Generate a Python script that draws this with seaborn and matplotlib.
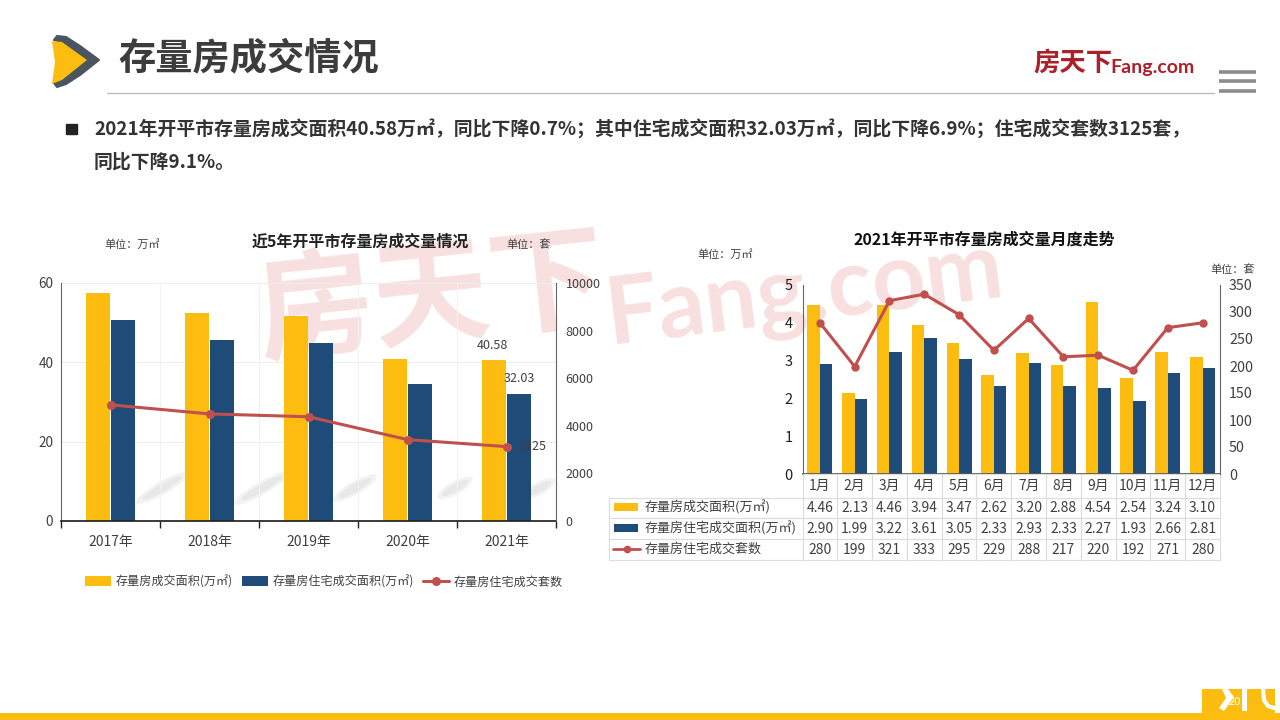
import pandas as pd
import seaborn as sns
import matplotlib.pyplot as plt
from matplotlib.patches import Polygon, Rectangle, Ellipse

years = ['2017年', '2018年', '2019年', '2020年', '2021年']
year_area = [57.5, 52.4, 51.7, 40.8, 40.58]
year_house_area = [50.6, 45.6, 44.8, 34.5, 32.03]
year_sets = [4880, 4500, 4380, 3420, 3125]

months = ['1月', '2月', '3月', '4月', '5月', '6月', '7月', '8月', '9月', '10月', '11月', '12月']
month_area = [4.46, 2.13, 4.46, 3.94, 3.47, 2.62, 3.20, 2.88, 4.54, 2.54, 3.24, 3.10]
month_house_area = [2.90, 1.99, 3.22, 3.61, 3.05, 2.33, 2.93, 2.33, 2.27, 1.93, 2.66, 2.81]
month_sets = [280, 199, 321, 333, 295, 229, 288, 217, 220, 192, 271, 280]

name_area = '存量房成交面积(万㎡)'
name_house = '存量房住宅成交面积(万㎡)'
name_sets = '存量房住宅成交套数'

YELLOW = '#fdbd10'
BLUE = '#1f4b78'
RED = '#c0504d'
TEXT = '#404040'

sns.set_theme(style='white')
plt.rcParams['font.family'] = ['Noto Sans CJK SC', 'DejaVu Sans']
plt.rcParams['axes.unicode_minus'] = False

fig = plt.figure(figsize=(12.8, 7.2), dpi=100, facecolor='white')


def px_axes(left, top, right, bottom):
    return fig.add_axes([left / 1280, 1 - bottom / 720, (right - left) / 1280, (bottom - top) / 720])


# page layer in pixel coordinates
bg = fig.add_axes([0, 0, 1, 1], zorder=0)
bg.set_xlim(0, 1280)
bg.set_ylim(720, 0)
bg.axis('off')

bg.add_patch(Polygon([(57, 36), (66, 37), (80, 46), (99, 60), (80, 75), (66, 84), (57, 87), (54, 83),
                      (62, 80), (87, 60), (62, 42), (54, 40)],
                     facecolor='#4a5560', edgecolor='#4a5560', lw=1.5, joinstyle='round'))
bg.add_patch(Polygon([(52, 41), (62, 42), (87, 60), (62, 80), (52, 84), (55, 62)], color=YELLOW, lw=0))
bg.text(118, 59, '存量房成交情况', fontsize=26.8, fontweight='bold', color='#3c3c3c', va='center')
bg.plot([107, 1214], [93, 93], color='#bdbdbd', lw=1)
bg.text(1033, 63, '房天下', fontsize=19, color='#ab2029', va='center', fontweight='bold')
bg.text(1110, 67, 'Fang.com', fontsize=14, color='#ab2029', va='center', fontweight='bold', family='Lato')
for y in [72, 81, 91]:
    bg.plot([1219, 1256], [y, y], color='#8c8c8c', lw=2.6, solid_capstyle='butt')

bg.add_patch(Rectangle((66, 124), 11, 10, color='#222222'))
bg.text(94, 129, '2021年开平市存量房成交面积40.58万㎡，同比下降0.7%；其中住宅成交面积32.03万㎡，同比下降6.9%；住宅成交套数3125套，',
        fontsize=13.6, fontweight='bold', color='#333333', va='center')
bg.text(94, 162, '同比下降9.1%。', fontsize=13.6, fontweight='bold', color='#333333', va='center')

# watermark
bg.text(258, 318, '房天下', fontsize=84, color='#f8e0e0', va='center', rotation=6,
        rotation_mode='anchor', fontweight='bold')
bg.text(606, 318, 'Fang.com', fontsize=67, color='#f8e0e0', va='center', rotation=7,
        rotation_mode='anchor', fontweight='bold', family='Lato')
for cx, w in [(162, 60), (262, 64), (355, 50), (455, 40), (540, 34)]:
    bg.add_patch(Ellipse((cx, 488), w, 13, angle=-30, color='#f3f3f3', lw=0))
    bg.add_patch(Ellipse((cx, 488), w * 0.75, 8, angle=-30, color='#e8e8e8', lw=0))

# footer
bg.add_patch(Rectangle((0, 713), 1280, 7, color=YELLOW, lw=0))
bg.add_patch(Rectangle((1202, 689), 78, 24, color=YELLOW, lw=0))
bg.add_patch(Polygon([(1222, 689), (1228, 689), (1234, 697), (1224, 711), (1219, 708), (1226, 698)], color='white', lw=0))
bg.add_patch(Rectangle((1242, 689), 5, 22, color='white', lw=0))
bg.plot([1263, 1264, 1268, 1274], [689, 700, 706, 708], color='white', lw=3)
bg.add_patch(Rectangle((1275, 689), 5, 24, color='white', lw=0))
bg.text(1235, 702, '20', fontsize=8, color='white', ha='center', va='center')

bg.text(132, 244, '单位：万㎡', fontsize=8, color=TEXT, ha='center', va='center')
bg.text(529, 245, '单位：套', fontsize=8, color=TEXT, ha='center', va='center')
bg.text(360, 242, '近5年开平市存量房成交量情况', fontsize=11.5, fontweight='bold', color='#222222', ha='center', va='center')
bg.text(725, 254, '单位：万㎡', fontsize=8, color=TEXT, ha='center', va='center')
bg.text(1233, 270, '单位：套', fontsize=8, color=TEXT, ha='center', va='center')
bg.text(984, 240, '2021年开平市存量房成交量月度走势', fontsize=11.5, fontweight='bold', color='#111111', ha='center', va='center')

# left chart
df_year = pd.DataFrame({'x': years * 2,
                        'v': year_area + year_house_area,
                        's': [name_area] * 5 + [name_house] * 5})
ax = px_axes(61, 283, 556, 521)
ax.set_zorder(1)
ax.patch.set_alpha(0)
sns.barplot(data=df_year, x='x', y='v', hue='s', palette=[YELLOW, BLUE], width=0.52, gap=0.06,
            saturation=1, linewidth=0, ax=ax)
ax.set_xlim(-0.5, 4.5)
ax.set_ylim(0, 60)
ax.set_yticks([0, 20, 40, 60])
ax.set_xlabel('')
ax.set_ylabel('')
ax.set_axisbelow(True)
ax.grid(True, axis='y', color='#eeeeee', lw=0.8)
ax.set_xticks([i + 0.5 for i in range(-1, 5)], minor=True)
ax.grid(True, axis='x', which='minor', color='#f2f2f2', lw=0.8)
ax.tick_params(axis='x', which='minor', length=5, width=1, color='#222222', bottom=True)
ax.tick_params(axis='x', which='major', length=0, labelsize=10, labelcolor=TEXT, pad=10)
ax.tick_params(axis='y', length=0, labelsize=9.8, labelcolor=TEXT, pad=5.5)
ax.spines['top'].set_visible(False)
ax.spines['right'].set_visible(False)
ax.spines['left'].set_color('#666666')
ax.spines['left'].set_linewidth(0.8)
ax.spines['bottom'].set_color('#222222')

ax_r = ax.twinx()
sns.lineplot(x=years, y=year_sets, color=RED, lw=2.2, marker='o', markersize=6.5, markeredgewidth=0,
             sort=False, label=name_sets, ax=ax_r)
ax_r.set_xlim(-0.5, 4.5)
ax_r.set_ylim(0, 10000)
ax_r.set_yticks([0, 2000, 4000, 6000, 8000, 10000])
ax_r.tick_params(axis='y', length=0, labelsize=9, labelcolor=TEXT, pad=7)
ax_r.grid(False)
ax_r.spines['top'].set_visible(False)
ax_r.spines['left'].set_visible(False)
ax_r.spines['bottom'].set_visible(False)
ax_r.spines['right'].set_color('#666666')
ax_r.spines['right'].set_linewidth(0.8)

ax.annotate(f'{year_area[-1]:.2f}', (4, year_area[-1]), xytext=(-14, 15), textcoords='offset pixels',
            fontsize=9, color=TEXT, ha='center', va='center', annotation_clip=False)
ax.annotate(f'{year_house_area[-1]:.2f}', (4, year_house_area[-1]), xytext=(13, 15), textcoords='offset pixels',
            fontsize=9, color=TEXT, ha='center', va='center', annotation_clip=False)
ax_r.annotate(f'{year_sets[-1]}', (4, year_sets[-1]), xytext=(26, 0), textcoords='offset pixels',
              fontsize=9, color=TEXT, ha='center', va='center', zorder=5)

h1, l1 = ax.get_legend_handles_labels()
h2, l2 = ax_r.get_legend_handles_labels()
ax.get_legend().remove()
ax_r.get_legend().remove()
ax_r.legend(h1 + h2, l1 + l2, ncol=3, frameon=False, fontsize=8.7, labelcolor=TEXT,
            loc='center', bbox_to_anchor=(324 / 1280, 1 - 582 / 720), bbox_transform=fig.transFigure,
            handlelength=2.1, handleheight=0.9, handletextpad=0.4, columnspacing=0.8)

# right chart
df_month = pd.DataFrame({'x': months * 2,
                         'v': month_area + month_house_area,
                         's': [name_area] * 12 + [name_house] * 12})
ax2 = px_axes(802.5, 285, 1220, 474)
ax2.set_zorder(1)
ax2.patch.set_alpha(0)
sns.barplot(data=df_month, x='x', y='v', hue='s', palette=[YELLOW, BLUE], width=0.72, saturation=1,
            linewidth=0, legend=False, ax=ax2)
ax2.set_xlim(-0.5, 11.5)
ax2.set_ylim(0, 5)
ax2.set_yticks(range(6))
ax2.set_xlabel('')
ax2.set_ylabel('')
ax2.set_xticks(range(12))
ax2.set_xticklabels([])
ax2.tick_params(axis='x', length=0)
ax2.tick_params(axis='y', length=0, labelsize=10.5, labelcolor='#222222', pad=7)
ax2.spines['top'].set_visible(False)
ax2.spines['right'].set_visible(False)
ax2.spines['left'].set_color('#666666')
ax2.spines['left'].set_linewidth(0.8)
ax2.spines['bottom'].set_color('#555555')

ax2_r = ax2.twinx()
sns.lineplot(x=months, y=month_sets, color=RED, lw=2.2, marker='o', markersize=6, markeredgewidth=0,
             sort=False, ax=ax2_r)
ax2_r.set_xlim(-0.5, 11.5)
ax2_r.set_ylim(0, 350)
ax2_r.set_yticks(range(0, 351, 50))
ax2_r.tick_params(axis='y', length=0, labelsize=10.3, labelcolor=TEXT, pad=6.5)
ax2_r.grid(False)
ax2_r.spines['top'].set_visible(False)
ax2_r.spines['left'].set_visible(False)
ax2_r.spines['bottom'].set_visible(False)
ax2_r.spines['right'].set_color('#666666')
ax2_r.spines['right'].set_linewidth(0.8)

# data table under the right chart
rows = [[''] + months,
        [''] + [f'{v:.2f}' for v in month_area],
        [''] + [f'{v:.2f}' for v in month_house_area],
        [''] + [str(v) for v in month_sets]]
col_w = 1 / 12
first_w = (802.5 - 609) / (1220 - 802.5)
tb = ax2_r.table(cellText=rows, colWidths=[first_w] + [col_w] * 12, cellLoc='center',
                 bbox=[-first_w, -86 / 189, 1 + first_w, 86 / 189])
tb.auto_set_font_size(False)
tb.set_fontsize(10)
for (r, c), cell in tb.get_celld().items():
    cell.set_edgecolor('#dcdcdc')
    cell.set_linewidth(0.8)
    cell.set_facecolor('none')
    cell.get_text().set_color(TEXT)
    if r == 0 and c == 0:
        cell.set_visible(False)
heights = [24, 21, 21, 21]
for (r, c), cell in tb.get_celld().items():
    cell.set_height(heights[r] / 189)

# row keys of the table
for y, name, color in [(507, name_area, YELLOW), (528, name_house, BLUE)]:
    bg.add_patch(Rectangle((614, y - 4), 24, 8, color=color, lw=0))
    bg.text(645, y, name, fontsize=9.4, color=TEXT, va='center')
bg.plot([613, 640], [549, 549], color=RED, lw=2)
bg.plot([627], [549], 'o', color=RED, ms=5.5, mew=0)
bg.text(645, 549, name_sets, fontsize=9.4, color=TEXT, va='center')

fig.savefig('out.png', dpi=100)
